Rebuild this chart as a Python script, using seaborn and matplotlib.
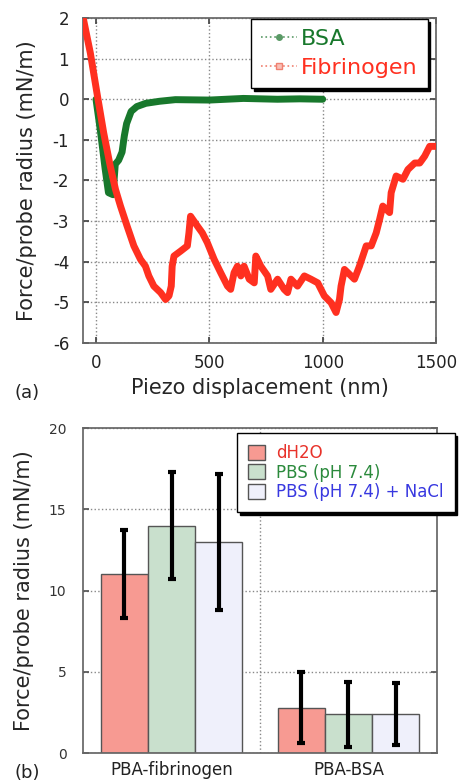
import numpy as np
import pandas as pd
import matplotlib
matplotlib.use("Agg")
import matplotlib.pyplot as plt
from matplotlib.lines import Line2D
from matplotlib.patches import Patch
import seaborn as sns

# ---------------------------------------------------------
# data
# ---------------------------------------------------------
fib_x = [-55, -25, 4, 34, 63, 86, 108, 137, 167, 196, 218, 233, 255, 285, 307,
         322, 332, 336, 344, 373, 403, 410, 417, 447, 469, 491, 521, 550, 580,
         594, 609, 624, 639, 653, 676, 698, 705, 727, 757, 771, 801, 830, 845,
         860, 889, 919, 948, 978, 1007, 1037, 1059, 1074, 1081, 1096, 1111,
         1140, 1162, 1177, 1192, 1214, 1236, 1251, 1265, 1295, 1302, 1324,
         1354, 1376, 1406, 1428, 1450, 1472, 1500]
fib_y = [1.96, 1.14, 0.16, -0.83, -1.65, -2.22, -2.63, -3.12, -3.61, -3.94,
         -4.11, -4.35, -4.60, -4.76, -4.93, -4.84, -4.60, -4.11, -3.86, -3.74,
         -3.61, -3.29, -2.88, -3.12, -3.29, -3.53, -3.94, -4.27, -4.60, -4.68,
         -4.27, -4.11, -4.35, -4.11, -4.43, -4.52, -3.86, -4.11, -4.35, -4.68,
         -4.43, -4.68, -4.76, -4.43, -4.60, -4.35, -4.43, -4.52, -4.84, -5.01,
         -5.25, -4.93, -4.60, -4.19, -4.27, -4.43, -4.11, -3.86, -3.61, -3.61,
         -3.29, -2.96, -2.63, -2.79, -2.30, -1.89, -1.97, -1.73, -1.57, -1.57,
         -1.40, -1.16, -1.16]

bsa_x = [0, 20, 40, 55, 75, 85, 100, 115, 125, 135, 155, 180, 220, 280, 350,
         500, 650, 800, 900, 1000]
bsa_y = [0.0, -0.8, -1.7, -2.3, -2.35, -1.6, -1.5, -1.3, -0.9, -0.6, -0.3,
         -0.18, -0.1, -0.05, -0.01, -0.02, 0.02, 0.0, 0.01, 0.0]

samples = ["PBA-fibrinogen", "PBA-BSA"]
buffers = ["dH2O", "PBS (pH 7.4)", "PBS (pH 7.4) + NaCl"]
force_fib = [11.0, 14.0, 13.0]
force_bsa = [2.8, 2.4, 2.4]
err_lo_fib = [8.3, 10.7, 8.8]
err_hi_fib = [13.7, 17.3, 17.2]
err_lo_bsa = [0.6, 0.4, 0.5]
err_hi_bsa = [5.0, 4.4, 4.3]

bar_colors = ["#f79a92", "#c9e0cd", "#eff0fb"]
text_colors = ["#e8322a", "#2b8a3c", "#3838e0"]
green = "#18782c"
red = "#ff3020"

# ---------------------------------------------------------
# figure
# ---------------------------------------------------------
sns.set_theme(style="ticks")
plt.rcParams["font.family"] = ["DejaVu Sans"]
plt.rcParams["axes.unicode_minus"] = False
plt.rcParams["xtick.direction"] = "in"
plt.rcParams["ytick.direction"] = "in"

fig = plt.figure(figsize=(4.59, 7.83), dpi=100)
ax1 = fig.add_axes([0.181, 0.562, 0.769, 0.415])
ax2 = fig.add_axes([0.181, 0.0383, 0.771, 0.415])

# --- (a) force curves ---
df_fib = pd.DataFrame({"x": fib_x, "y": fib_y})
df_bsa = pd.DataFrame({"x": bsa_x, "y": bsa_y})
sns.lineplot(data=df_bsa, x="x", y="y", ax=ax1, color=green, lw=5,
             solid_capstyle="round", solid_joinstyle="round", zorder=3)
sns.lineplot(data=df_fib, x="x", y="y", ax=ax1, color=red, lw=5,
             solid_capstyle="round", solid_joinstyle="round", zorder=4)

ax1.set_xlim(-57, 1500)
ax1.set_ylim(-6, 2)
ax1.set_xticks([0, 500, 1000, 1500])
ax1.set_yticks(range(-6, 3))
ax1.grid(True, ls=":", color="#888888", lw=1)
ax1.set_axisbelow(True)
ax1.tick_params(labelsize=12, length=4, top=True, right=True, colors="#444444",
                labelcolor="#222222")
ax1.tick_params(axis="y", pad=10)
ax1.tick_params(axis="x", pad=8)
ax1.set_xlabel("Piezo displacement (nm)", fontsize=15, labelpad=4)
ax1.set_ylabel("Force/probe radius (mN/m)", fontsize=15, labelpad=11)
for s in ax1.spines.values():
    s.set_color("#666666")

h1 = [Line2D([], [], color="#5a9a66", ls=":", marker="o", ms=4, lw=1.2),
      Line2D([], [], color="#f08070", ls=":", marker="s", ms=4, lw=1.2,
             mfc="#f8c0b8")]
leg1 = ax1.legend(h1, ["BSA", "Fibrinogen"], loc="upper left",
                  bbox_to_anchor=(251 / 459, 1 - 19 / 783),
                  bbox_transform=fig.transFigure, fontsize=16,
                  labelcolor=[green, red], frameon=True, fancybox=False,
                  handlelength=1.6, handletextpad=0.2, borderpad=0.45,
                  labelspacing=0.4, borderaxespad=0,
                  shadow={"color": "black", "alpha": 1})
leg1.get_frame().set_edgecolor("black")
leg1.get_frame().set_linewidth(1.0)

fig.text(15 / 459, 1 - 398 / 783, "(a)", fontsize=13, color="#222222")

# --- (b) bar chart ---
df_bar = pd.DataFrame({
    "sample": [samples[0]] * 3 + [samples[1]] * 3,
    "buffer": buffers * 2,
    "force": force_fib + force_bsa,
})
sns.barplot(data=df_bar, x="sample", y="force", hue="buffer", order=samples,
            hue_order=buffers, palette=bar_colors, saturation=1,
            errorbar=None, width=0.8, edgecolor="#555555", linewidth=1,
            ax=ax2, legend=False, zorder=2)

lo = [err_lo_fib, err_lo_bsa]
hi = [err_hi_fib, err_hi_bsa]
vals = [force_fib, force_bsa]
bar_conts = list(ax2.containers)
for j, cont in enumerate(bar_conts):
    for i, bar in enumerate(cont.patches):
        xc = bar.get_x() + bar.get_width() / 2
        v = vals[i][j]
        ax2.errorbar(xc, v, yerr=[[v - lo[i][j]], [hi[i][j] - v]], fmt="none",
                     ecolor="black", elinewidth=3, capsize=3, capthick=3,
                     zorder=5)

ax2.set_xlim(-0.5, 1.5)
ax2.set_ylim(0, 20)
ax2.set_yticks([0, 5, 10, 15, 20])
ax2.set_xticks([0, 1], samples)
ax2.set_xticks([0.5], minor=True)
ax2.grid(True, axis="y", ls=":", color="#888888", lw=1)
ax2.grid(True, axis="x", which="minor", ls=":", color="#888888", lw=1)
ax2.set_axisbelow(True)
ax2.tick_params(axis="y", labelsize=10, length=4, right=True, pad=12,
                colors="#555555", labelcolor="#333333")
ax2.tick_params(axis="x", which="both", length=0, labelsize=12,
                labelcolor="#222222", pad=6)
ax2.set_xlabel("")
ax2.set_ylabel("Force/probe radius (mN/m)", fontsize=15, labelpad=11)
for s in ax2.spines.values():
    s.set_color("#666666")

h2 = [Patch(facecolor=c, edgecolor="#555555") for c in bar_colors]
leg2 = ax2.legend(h2, buffers, loc="upper left",
                  bbox_to_anchor=(237 / 459, 1 - 433 / 783),
                  bbox_transform=fig.transFigure, fontsize=12,
                  labelcolor=text_colors, frameon=True, fancybox=False,
                  handlelength=1.0, handleheight=1.0, handletextpad=0.7,
                  borderpad=0.65, labelspacing=0.1, borderaxespad=0,
                  shadow={"color": "black", "alpha": 1})
leg2.get_frame().set_edgecolor("black")
leg2.get_frame().set_linewidth(1.0)

fig.text(15 / 459, 1 - 778 / 783, "(b)", fontsize=13, color="#222222")

fig.savefig("out.png", dpi=100)
